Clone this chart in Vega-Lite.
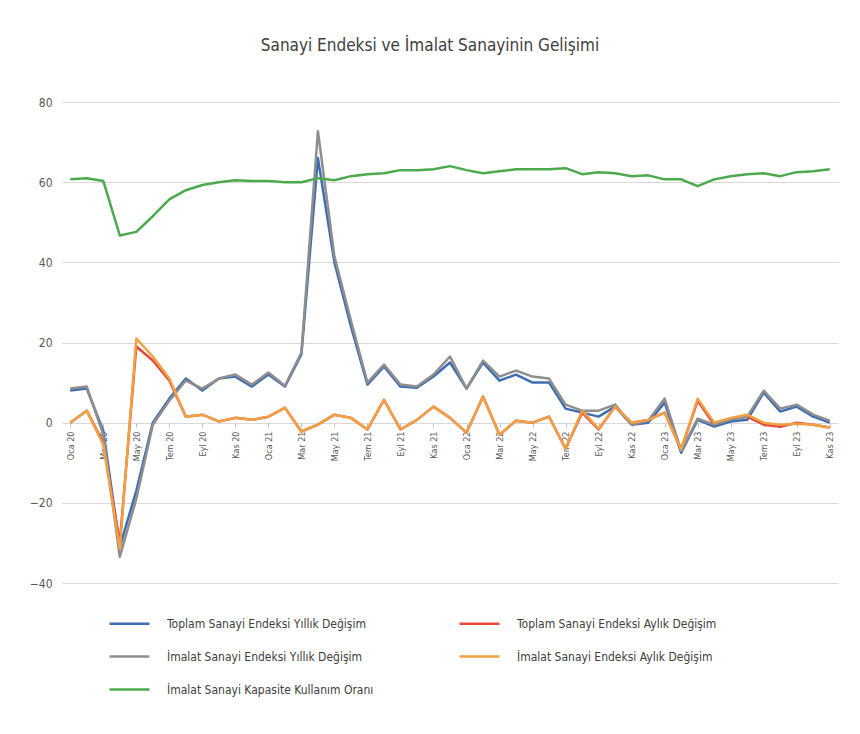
{
  "$schema": "https://vega.github.io/schema/vega-lite/v6.json",
  "autosize": {"type": "none"},
  "padding": {"left": 62, "top": 102, "right": 22, "bottom": 151},
  "width": 776,
  "height": 481,
  "background": "white",
  "title": {"text": "Sanayi Endeksi ve İmalat Sanayinin Gelişimi", "fontSize": 17, "fontWeight": "normal", "color": "#404040", "offset": 41, "dx": -20},
  "data": {"values": [
    {"m": "Oca 20", "TY": 8, "TA": 0, "IY": 8.5, "IA": 0, "K": 60.7},
    {"m": "Şub 20", "TY": 8.5, "TA": 3, "IY": 9, "IA": 3, "K": 61},
    {"m": "Mar 20", "TY": -2, "TA": -5, "IY": -3, "IA": -5.5, "K": 60.3},
    {"m": "Nis 20", "TY": -31, "TA": -30, "IY": -33.5, "IA": -31.5, "K": 46.7},
    {"m": "May 20", "TY": -17, "TA": 19, "IY": -19, "IA": 21, "K": 47.6},
    {"m": "Haz 20", "TY": 0, "TA": 15.5, "IY": -0.5, "IA": 16.5, "K": 51.5},
    {"m": "Tem 20", "TY": 6, "TA": 10.5, "IY": 5.5, "IA": 11, "K": 55.7},
    {"m": "Ağu 20", "TY": 11, "TA": 1.5, "IY": 10.5, "IA": 1.5, "K": 58},
    {"m": "Eyl 20", "TY": 8, "TA": 2, "IY": 8.5, "IA": 2, "K": 59.3},
    {"m": "Eki 20", "TY": 11, "TA": 0.3, "IY": 11, "IA": 0.3, "K": 60},
    {"m": "Kas 20", "TY": 11.5, "TA": 1.2, "IY": 12, "IA": 1.2, "K": 60.5},
    {"m": "Ara 20", "TY": 9, "TA": 0.7, "IY": 9.5, "IA": 0.7, "K": 60.3},
    {"m": "Oca 21", "TY": 12, "TA": 1.5, "IY": 12.5, "IA": 1.5, "K": 60.3},
    {"m": "Şub 21", "TY": 9, "TA": 3.7, "IY": 9.2, "IA": 3.7, "K": 60},
    {"m": "Mar 21", "TY": 17, "TA": -2.2, "IY": 17.5, "IA": -2.2, "K": 60},
    {"m": "Nis 21", "TY": 66, "TA": -0.5, "IY": 72.7, "IA": -0.5, "K": 61},
    {"m": "May 21", "TY": 40, "TA": 2, "IY": 41.5, "IA": 2, "K": 60.5},
    {"m": "Haz 21", "TY": 24, "TA": 1.2, "IY": 25.5, "IA": 1.2, "K": 61.5},
    {"m": "Tem 21", "TY": 9.5, "TA": -1.7, "IY": 10, "IA": -1.7, "K": 62},
    {"m": "Ağu 21", "TY": 14, "TA": 5.7, "IY": 14.5, "IA": 5.7, "K": 62.2},
    {"m": "Eyl 21", "TY": 9, "TA": -1.7, "IY": 9.5, "IA": -1.7, "K": 63},
    {"m": "Eki 21", "TY": 8.7, "TA": 0.7, "IY": 9, "IA": 0.7, "K": 63},
    {"m": "Kas 21", "TY": 11.5, "TA": 4, "IY": 12, "IA": 4, "K": 63.2},
    {"m": "Ara 21", "TY": 15, "TA": 1.2, "IY": 16.5, "IA": 1.2, "K": 64},
    {"m": "Oca 22", "TY": 8.5, "TA": -2.5, "IY": 8.5, "IA": -2.5, "K": 63},
    {"m": "Şub 22", "TY": 15, "TA": 6.5, "IY": 15.5, "IA": 6.5, "K": 62.2},
    {"m": "Mar 22", "TY": 10.5, "TA": -3, "IY": 11.5, "IA": -3, "K": 62.7},
    {"m": "Nis 22", "TY": 12, "TA": 0.5, "IY": 13, "IA": 0.5, "K": 63.2},
    {"m": "May 22", "TY": 10, "TA": 0, "IY": 11.5, "IA": 0, "K": 63.2},
    {"m": "Haz 22", "TY": 10, "TA": 1.5, "IY": 11, "IA": 1.5, "K": 63.2},
    {"m": "Tem 22", "TY": 3.5, "TA": -6.5, "IY": 4.5, "IA": -6.5, "K": 63.5},
    {"m": "Ağu 22", "TY": 2.5, "TA": 2.5, "IY": 3, "IA": 3, "K": 62},
    {"m": "Eyl 22", "TY": 1.5, "TA": -1.7, "IY": 3, "IA": -1.5, "K": 62.5},
    {"m": "Eki 22", "TY": 4, "TA": 4, "IY": 4.5, "IA": 4, "K": 62.2},
    {"m": "Kas 22", "TY": -0.5, "TA": 0, "IY": -0.5, "IA": 0, "K": 61.5},
    {"m": "Ara 22", "TY": 0, "TA": 0.7, "IY": 0.5, "IA": 0.7, "K": 61.7},
    {"m": "Oca 23", "TY": 5, "TA": 2.5, "IY": 6, "IA": 2.5, "K": 60.7},
    {"m": "Şub 23", "TY": -7.5, "TA": -6.7, "IY": -7, "IA": -6.7, "K": 60.7},
    {"m": "Mar 23", "TY": 0.7, "TA": 5.5, "IY": 1, "IA": 6, "K": 59},
    {"m": "Nis 23", "TY": -1, "TA": -0.5, "IY": -0.5, "IA": 0, "K": 60.7},
    {"m": "May 23", "TY": 0.3, "TA": 1, "IY": 0.8, "IA": 1.2, "K": 61.5},
    {"m": "Haz 23", "TY": 0.7, "TA": 1.5, "IY": 1.5, "IA": 2, "K": 62},
    {"m": "Tem 23", "TY": 7.5, "TA": -0.5, "IY": 8, "IA": 0, "K": 62.2},
    {"m": "Ağu 23", "TY": 2.8, "TA": -1, "IY": 3.5, "IA": -0.5, "K": 61.5},
    {"m": "Eyl 23", "TY": 4, "TA": 0, "IY": 4.5, "IA": -0.3, "K": 62.5},
    {"m": "Eki 23", "TY": 1.5, "TA": -0.5, "IY": 2, "IA": -0.5, "K": 62.7},
    {"m": "Kas 23", "TY": 0, "TA": -1.2, "IY": 0.5, "IA": -1.2, "K": 63.2}
  ]},
  "transform": [{"fold": ["TY", "TA", "IY", "IA", "K"], "as": ["s", "v"]}],
  "mark": {"type": "line", "strokeWidth": 2.5, "strokeJoin": "round"},
  "encoding": {
    "x": {
      "field": "m", "type": "ordinal", "sort": null,
      "scale": {"type": "point", "padding": 0.5},
      "axis": {
        "title": null,
        "values": ["Oca 20","Mar 20","May 20","Tem 20","Eyl 20","Kas 20","Oca 21","Mar 21","May 21","Tem 21","Eyl 21","Kas 21","Oca 22","Mar 22","May 22","Tem 22","Eyl 22","Kas 22","Oca 23","Mar 23","May 23","Tem 23","Eyl 23","Kas 23"],
        "labelAngle": -90, "offset": -160, "domain": false, "ticks": true, "tickSize": 4, "tickColor": "#bfbfbf",
        "labelFontSize": 9, "labelColor": "#595959", "labelPadding": 4, "grid": false
      }
    },
    "y": {
      "field": "v", "type": "quantitative",
      "scale": {"domain": [-40, 80], "nice": false},
      "axis": {
        "title": null, "values": [-40, -20, 0, 20, 40, 60, 80], "domain": false, "ticks": false,
        "labelFontSize": 12, "labelColor": "#595959", "labelPadding": 10,
        "grid": true, "gridColor": "#d9d9d9", "gridWidth": 1
      }
    },
    "color": {
      "field": "s", "type": "nominal",
      "scale": {"domain": ["TY", "TA", "IY", "IA", "K"], "range": ["#3E6EB2", "#E8473B", "#8E8E8E", "#F2A044", "#4CAA4C"]},
      "legend": {
        "title": null, "orient": "none", "legendX": 46, "legendY": 500, "columns": 2, "direction": "horizontal",
        "columnPadding": 80, "rowPadding": 5, "labelLimit": 400,
        "symbolType": "stroke", "symbolSize": 1600, "symbolStrokeWidth": 2.5, "labelOffset": 16,
        "labelFontSize": 12, "labelColor": "#404040",
        "labelExpr": "datum.label=='TY'?'Toplam Sanayi Endeksi Yıllık Değişim':datum.label=='TA'?'Toplam Sanayi Endeksi  Aylık Değişim':datum.label=='IY'?'İmalat Sanayi Endeksi Yıllık Değişim':datum.label=='IA'?'İmalat Sanayi Endeksi  Aylık Değişim':'İmalat Sanayi Kapasite Kullanım Oranı'"
      }
    }
  },
  "config": {
    "view": {"stroke": null},
    "font": "DejaVu Sans Condensed, Liberation Sans Narrow, sans-serif"
  }
}
